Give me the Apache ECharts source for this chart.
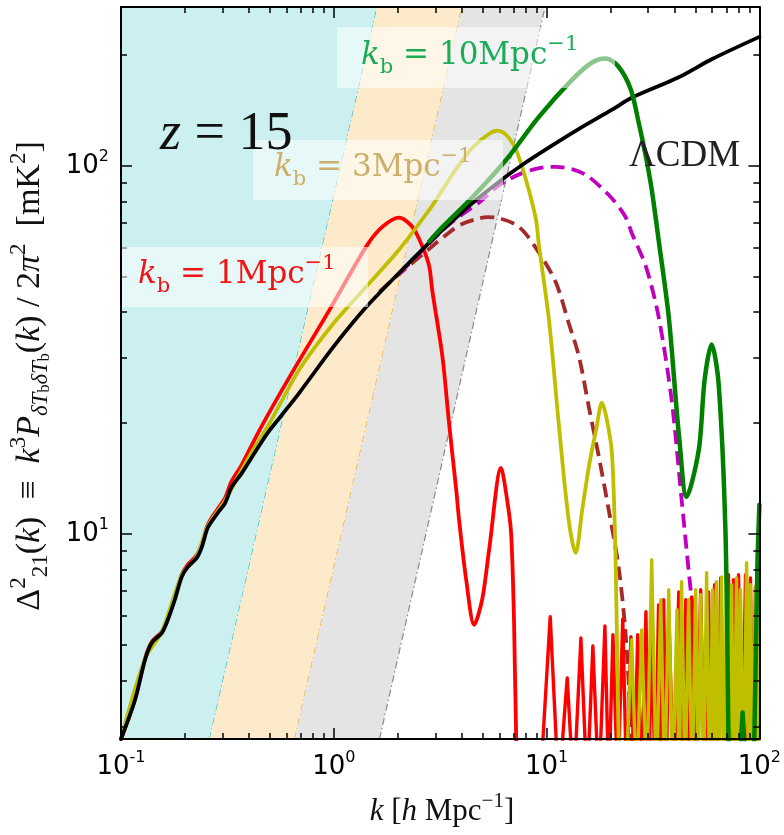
<!DOCTYPE html>
<html><head><meta charset="utf-8">
<script src="https://cdn.jsdelivr.net/npm/echarts@6/dist/echarts.min.js"></script>
<style>html,body{margin:0;padding:0;background:#fff}#c{width:784px;height:835px}</style>
</head><body><div id="c"></div>
<script>
// ---------- data (k in h/Mpc, Delta^2 in mK^2) ----------
const X_MIN = 0.1, X_MAX = 100, Y_MIN = 2.77, Y_MAX = 270;
const xMajor = [0.1, 1, 10, 100];
const xMinor = [0.2,0.3,0.4,0.5,0.6,0.7,0.8,0.9,2,3,4,5,6,7,8,9,20,30,40,50,60,70,80,90];
const yMajor = [10, 100];
const yMinor = [3,4,5,6,7,8,9,20,30,40,50,60,70,80,90,200];

// foreground-limit bands: k where the boundary line meets bottom / top of the frame
const bandBottomK = [0.261, 0.655, 1.64];
const bandTopK    = [1.60, 4.01, 9.84];

const kLCDM = [0.1,0.1164,0.1297,0.1397,0.1556,0.166,0.179,0.193,0.206,0.227,0.240,0.256,0.285,0.308,0.331,0.369,0.425,0.489,0.569,0.69,1.0,1.42,2.03,2.81,3.37,4.47,6.18,7.67,9.93,14.2,20.3,25.1,41.8,60,100];
const dLCDM = [2.77,3.54,4.55,5.06,5.38,5.84,6.62,7.64,8.13,8.60,9.22,10.4,11.4,12.1,13.4,14.6,16.6,18.8,21.0,24.2,32.3,41.3,51.2,61.8,68.3,79.1,91.8,100.5,110.8,126,142,153,174,195,224];

const kRed = [0.1,0.1164,0.1297,0.1397,0.1556,0.166,0.179,0.193,0.206,0.227,0.240,0.256,0.285,0.308,0.331,0.369,0.449,0.62,0.955,1.42,1.69,2.03,2.34,2.61,2.81,2.90,3.24,3.48,3.76,3.88,4.19,4.57,4.98,5.37,6.11,6.52,6.81,7.03,7.2,7.5];
const dRed = [2.77,3.56,4.58,5.10,5.42,5.90,6.70,7.75,8.25,8.75,9.40,10.6,11.7,12.5,13.9,15.4,19.2,26.7,40.6,60.3,68.2,72.3,68.2,60.3,53.2,46.0,30.3,20.0,13.2,10.9,7.5,5.66,6.62,9.05,15.1,12.4,10.06,5.84,2.77,1.5];
const kRedNoise = [9.3,10.4,11.4,12.5,13.4,14.5,15.5,16.5,17.6,18.8,19.6,20.5,21.6,22.8,23.8,24.9,25.8,26.8,28.0,29.3,30.2,31.2,32.4,33.6,34.5,35.5,36.5,37.5,39.6,41.8,43.4,45.1,46.6,48.1,50.5,53.0,55.3,57.7,59.6,61.6,63.7,65.8,68.6,71.6,73.6,75.6,77.7,79.8,82.9,86.1,88.4,90.8,93.3,95.9,98.0,100];
const dRedNoise = [2.0,5.95,2.0,4.06,2.0,5.21,2.0,4.96,2.0,5.62,2.0,5.32,2.0,5.87,2.0,5.25,2.0,5.32,2.0,6.14,2.0,5.66,2.0,6.41,2.0,6.62,2.0,6.22,2.0,6.95,2.0,6.62,2.0,6.74,2.0,7.05,2.0,6.95,2.0,7.27,2.0,7.59,2.0,7.74,2.0,7.50,2.0,7.74,2.0,7.74,2.0,7.59,2.0,7.18,2.0,6.5];

const kYel = [0.1,0.1297,0.1556,0.193,0.227,0.256,0.308,0.369,0.425,0.50,0.69,1.0,1.42,2.03,2.81,3.13,3.76,4.47,5.37,5.85,6.45,7.19,8.00,8.92,9.2,10.3,11.4,12.7,13.7,14.7,15.8,17.1,18.2,19.2,20.3,21.1,21.8,22.3];
const dYel = [2.77,4.58,5.42,7.72,8.70,10.5,12.3,14.9,17.2,20.0,28.0,37.4,46.9,59.2,75.9,83.3,98.1,111.8,122.2,124.5,121.4,110.4,91.6,71.3,61.0,37.4,20.0,10.9,8.87,11.6,15.2,19.2,22.7,20.4,16.5,8.5,2.77,1.5];
const kYelNoise = [23.5,25.1,26.5,28.0,29.5,31.2,32.8,34.4,35.9,37.5,39.2,41.0,42.0,43.1,44.8,46.5,48.3,50.2,51.6,53.0,54.7,56.5,58.4,60.3,61.6,62.9,64.6,66.4,68.2,70.1,72.0,74.0,76.0,78.1,79.8,81.5,84.3,87.1,88.9,90.8,93.3,95.9,97.5,99.1,100];
const dYelNoise = [2.0,5.15,2.0,5.48,2.0,8.50,2.0,6.62,2.0,7.05,2.0,6.22,2.0,7.41,2.0,6.62,2.0,7.05,2.0,6.83,2.0,7.84,2.0,7.05,2.0,7.41,2.0,7.64,2.0,7.05,2.0,7.27,2.0,7.59,2.0,7.05,2.0,8.34,2.0,7.27,2.0,7.18,2.0,7.50,2.0];

const kGreen = [2.81,3.13,4.47,6.45,9.2,13.2,16.3,19.0,21.8,24.9,27.1,29.3,31.2,33.6,37.5,40.5,41.8,45.5,51.9,55.3,59.6,64.3,69.3,71.6,73];
const dGreen = [62.3,66.8,82.0,103.7,135.8,171.4,190.5,195.5,185.8,161,130.9,105.7,86.1,63.0,38.9,23.1,18.8,12.6,16.9,26.2,32.7,25.7,10.1,2.77,1.5];
const kGreenTail = [79.5,83.4,87.5,93.7,98.0,100];
const dGreenTail = [2.0,3.27,2.0,2.0,8.5,12];

const kBrown = [1.64,2.03,2.81,3.5,4.01,4.82,5.3,5.79,7.43,9.2,11.07,12.7,14.2,15.8,17.6,19.6,21.8,23.5,25.1,25.8];
const dBrown = [45.5,50.8,59.5,66.0,69.5,72.0,72.5,72.3,68.2,58.1,48.1,37.4,30.3,22.1,16.2,11.6,8.13,5.38,2.88,2.4];

const kMag = [2.03,2.81,3.5,4.82,5.98,7.67,9.5,11.07,13.5,15.8,20.3,23.5,25.1,29.3,33.6,38.7,43.1,48.1,55.8,57.7,59];
const dMag = [50.9,61.5,69.5,79.5,88.5,95.5,98.8,99.3,97.5,93.3,81.5,72.6,65.8,53.2,38.9,23.1,12.4,6.62,3.19,2.88,2.3];

// ---------- helpers ----------
const L = Math.log10;
const pts = (ks, ds) => ks.map((k, i) => [L(k), L(ds[i])]);
const XL = [L(X_MIN), L(X_MAX)], YL = [L(Y_MIN), L(Y_MAX)];

const bandFill = ['#cbf0ef', '#fdeacb', '#e4e4e4'];
const bandLine = ['#22bcbc', '#f5a623', '#8a8a8a'];
const bandData = bandBottomK.map((kb, i) => [
  i === 0 ? XL[0] : L(bandBottomK[i-1]),
  i === 0 ? XL[0] : L(bandTopK[i-1]),
  L(kb), L(bandTopK[i]), i
]);

const tickRich = {
  b: {fontFamily: 'DejaVu Sans', fontSize: 26, color: '#000', lineHeight: 34},
  s: {fontFamily: 'DejaVu Sans', fontSize: 16, color: '#000', lineHeight: 14, verticalAlign: 'top'}
};
const tickFmt = v => '{b|10}{s|' + Math.round(v) + '}';

function xAx(pos, major) {
  return {
    type: 'value', min: XL[0], max: XL[1], position: pos, z: 10,
    axisLine: {show: major, onZero: false, lineStyle: {color: '#000', width: 2}},
    axisTick: {show: true, inside: true, length: major ? 11 : 6,
      lineStyle: {color: '#000', width: 1.5},
      customValues: (major ? xMajor : xMinor).map(L)},
    axisLabel: (major && pos === 'bottom') ? {show: true, customValues: xMajor.map(L), formatter: tickFmt, rich: tickRich, margin: 11} : {show: false},
    splitLine: {show: false}
  };
}
function yAx(pos, major) {
  return {
    type: 'value', min: YL[0], max: YL[1], position: pos, z: 10,
    axisLine: {show: major, onZero: false, lineStyle: {color: '#000', width: 2}},
    axisTick: {show: true, inside: true, length: major ? 11 : 6,
      lineStyle: {color: '#000', width: 1.5},
      customValues: (major ? yMajor : yMinor).map(L)},
    axisLabel: (major && pos === 'left') ? {show: true, customValues: yMajor.map(L), formatter: tickFmt, rich: tickRich, margin: 12} : {show: false},
    splitLine: {show: false}
  };
}

function line(name, data, color, width, z, opts) {
  return Object.assign({
    name, type: 'line', data, symbol: 'none', z, smooth: 0.3, clip: true,
    lineStyle: {color, width, cap: 'round', join: 'round'}, animation: false
  }, opts || {});
}

// label text rich styles (zrender naming for graphic)
function labRich(color) {
  return {
    k: {fontFamily: 'DejaVu Serif', fontStyle: 'italic', fontSize: 31, fill: color, lineHeight: 44},
    sb: {fontFamily: 'DejaVu Serif', fontSize: 21, fill: color, lineHeight: 26, verticalAlign: 'bottom'},
    t: {fontFamily: 'DejaVu Serif', fontSize: 31, fill: color, lineHeight: 44},
    sp: {fontFamily: 'DejaVu Serif', fontSize: 21, fill: color, lineHeight: 22, verticalAlign: 'top'}
  };
}
function kbLabel(val, color, x, y) {
  return {type: 'text', x, y, z: 101,
    style: {text: '{k|k}{sb|b}{t| = ' + val + 'Mpc}{sp|−1}', rich: labRich(color), fill: color, align: 'left', verticalAlign: 'middle'}};
}
function box(x, y, w, h) {
  return {type: 'rect', z: 100, shape: {x, y, width: w, height: h}, style: {fill: 'rgba(255,255,255,0.55)'}};
}

function titleRich(fs) {
  const s = Math.round(fs * 0.68), ss = Math.round(fs * 0.46);
  return {
    m: {fontFamily: 'Liberation Serif', fontSize: fs, fill: '#111', lineHeight: fs + 11},
    i: {fontFamily: 'Liberation Serif', fontStyle: 'italic', fontSize: fs, fill: '#111', lineHeight: fs + 11},
    sup: {fontFamily: 'Liberation Serif', fontSize: s, fill: '#111', lineHeight: fs * 0.62, verticalAlign: 'top'},
    sub: {fontFamily: 'Liberation Serif', fontSize: s, fill: '#111', lineHeight: fs * 0.82, verticalAlign: 'bottom'},
    subi: {fontFamily: 'Liberation Serif', fontStyle: 'italic', fontSize: s, fill: '#111', lineHeight: fs * 0.82, verticalAlign: 'bottom'},
    ss: {fontFamily: 'Liberation Serif', fontSize: ss, fill: '#111', lineHeight: ss, verticalAlign: 'bottom'}
  };
}

const chart = echarts.init(document.getElementById('c'), null, {renderer: 'canvas'});
chart.setOption({
  animation: false,
  backgroundColor: '#fff',
  grid: {left: 121, right: 23, top: 7, bottom: 96, containLabel: false},
  xAxis: [xAx('bottom', true), xAx('bottom', false), xAx('top', true), xAx('top', false)],
  yAxis: [yAx('left', true), yAx('left', false), yAx('right', true), yAx('right', false)],
  series: [
    {
      type: 'custom', name: 'bands', z: 1, clip: true, silent: true,
      data: bandData,
      encode: {x: [0, 2], y: []},
      renderItem: function (params, api) {
        const lb = api.value(0), lt = api.value(1), rb = api.value(2), rt = api.value(3), i = api.value(4);
        const p1 = api.coord([lb, YL[0]]), p2 = api.coord([rb, YL[0]]);
        const p3 = api.coord([rt, YL[1]]), p4 = api.coord([lt, YL[1]]);
        return {type: 'group', children: [
          {type: 'polygon', shape: {points: [p1, p2, p3, p4]}, style: {fill: bandFill[i]}},
          {type: 'line', shape: {x1: p2[0], y1: p2[1], x2: p3[0], y2: p3[1]},
           style: {stroke: bandLine[i], lineWidth: 1.2, lineDash: [7, 3, 1.5, 3]}}
        ]};
      }
    },
    line('brown', pts(kBrown, dBrown), '#a52a2a', 3.8, 2, {lineStyle: {color: '#a52a2a', width: 3.8, type: [14, 7]}}),
    line('magenta', pts(kMag, dMag), '#bf00bf', 3.8, 2, {lineStyle: {color: '#bf00bf', width: 3.8, type: [14, 7]}}),
    line('red', pts(kRed, dRed), '#ff0000', 3.8, 3),
    line('redNoise', pts(kRedNoise, dRedNoise), '#ff0000', 3.4, 3, {smooth: false}),
    line('yellow', pts(kYel, dYel), '#bfbf00', 3.8, 3),
    line('yellowNoise', pts(kYelNoise, dYelNoise), '#bfbf00', 3.4, 3, {smooth: false}),
    line('lcdm', pts(kLCDM, dLCDM), '#000000', 3.8, 4),
    line('green', pts(kGreen, dGreen), '#008000', 4.5, 5),
    line('greenTail', pts(kGreenTail, dGreenTail), '#008000', 4.5, 5, {smooth: false})
  ],
  graphic: [
    box(122, 247, 246, 60),
    box(253, 140, 250, 60),
    box(337, 27, 278, 61),
    kbLabel('1', '#f01414', 138, 275),
    kbLabel('3', '#ccaf6a', 274, 168),
    kbLabel('10', '#1aad58', 361, 56),
    {type: 'text', x: 160, y: 135, z: 101, style: {
      text: '{i|z}{m| = 15}', align: 'left', verticalAlign: 'middle',
      rich: {i: {fontFamily: 'Liberation Serif', fontStyle: 'italic', fontSize: 54, fill: '#111'},
             m: {fontFamily: 'Liberation Serif', fontSize: 54, fill: '#111'}}}},
    {type: 'text', x: 629, y: 156, z: 101, style: {
      text: 'ΛCDM', font: '37px "Liberation Serif"', fill: '#222', align: 'left', verticalAlign: 'middle'}},
    {type: 'text', x: 442, y: 812, z: 101, style: {
      text: '{i|k}{m| [}{i|h}{m| Mpc}{sup|−1}{m|]}', rich: titleRich(31), align: 'center', verticalAlign: 'middle'}},
    {type: 'text', x: 30, y: 376, rotation: Math.PI / 2, z: 101, style: {
      text: '{m|Δ}{sup|2}{sub|21}{m|(}{i|k}{m|)  ≡  }{i|k}{sup|3}{i|P}{subi|δT}{ss|b}{subi|δT}{ss|b}{m|(}{i|k}{m|) / 2}{i|π}{sup|2}{m|  [mK}{sup|2}{m|]}',
      rich: titleRich(34), align: 'center', verticalAlign: 'middle'}}
  ]
});
</script></body></html>
